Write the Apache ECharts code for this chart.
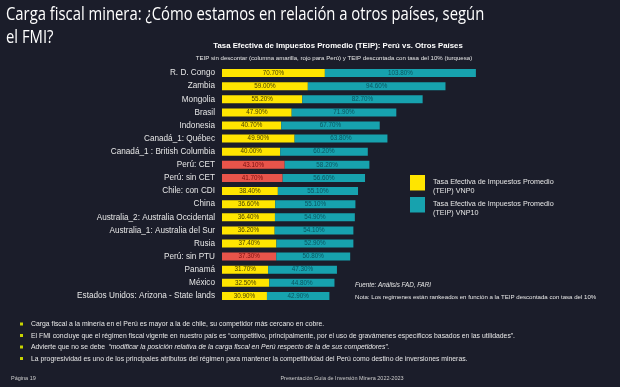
<!DOCTYPE html>
<html><head><meta charset="utf-8">
<script src="https://cdn.jsdelivr.net/npm/echarts@6/dist/echarts.min.js"></script>
<style>html,body{margin:0;padding:0;background:#1b1d2a;}#c{width:620px;height:387px;}</style>
</head><body><div id="c"></div>
<script>
const categories = ["R. D. Congo","Zambia","Mongolia","Brasil","Indonesia","Canadá_1: Québec","Canadá_1 : British Columbia","Perú: CET","Perú: sin CET","Chile: con CDI","China","Australia_2: Australia Occidental","Australia_1: Australia del Sur","Rusia","Perú: sin PTU","Panamá","México","Estados Unidos: Arizona - State lands"];
const vnp0 = [70.7,59.0,55.2,47.9,40.7,49.9,40.0,43.1,41.7,38.4,36.6,36.4,36.2,37.4,37.3,31.7,32.5,30.9];
const vnp10 = [103.8,94.6,82.7,71.9,67.7,63.8,60.2,58.2,56.6,55.1,55.1,54.9,54.1,52.9,50.8,47.3,44.8,42.9];
const legendNames = ["Tasa Efectiva de Impuestos Promedio\n(TEIP) VNP0","Tasa Efectiva de Impuestos Promedio\n(TEIP) VNP10"];
const bullets = [
 "Carga fiscal a la minería en el Perú es mayor a la de chile, su competidor más cercano en cobre.",
 "El FMI concluye que el régimen fiscal vigente en nuestro país es \u201ccompetitivo, principalmente, por el uso de gravámenes específicos basados en las utilidades\u201d.",
 "Advierte que no se debe \u201cmodificar la posición relativa de la carga fiscal en Perú respecto de la de sus competidores\u201d.",
 "La progresividad es uno de los principales atributos del régimen para mantener la competitividad del Perú como destino de inversiones mineras."
];

const YEL='#ffe500', TEAL='#17a2ae', RED='#e8544a';
const isPeru = c => c.startsWith('Perú');
const chart = echarts.init(document.getElementById('c'));
const font = 'Liberation Sans';

const bulletGraphics = [];
const by = [324,335.5,347,358.5];
const BS = 0.9;
bullets.forEach((t,i)=>{
  bulletGraphics.push({type:'rect',shape:{x:20,y:by[i]-1.5,width:3,height:3},style:{fill:'#c8d400'}});
  if(i===2){
    const a='Advierte que no se debe ';
    bulletGraphics.push({type:'group',x:31,y:by[i],scaleX:BS,children:[
      {type:'text',style:{x:0,y:0,text:a,fill:'#e8e8e8',font:'7.6px '+font,verticalAlign:'middle'}},
      {type:'text',style:{x:86,y:0,text:'\u201cmodificar la posición relativa de la carga fiscal en Perú respecto de la de sus competidores\u201d.',fill:'#e8e8e8',font:'italic 7.6px '+font,verticalAlign:'middle'}}
    ]});
  } else {
    bulletGraphics.push({type:'text',x:31,y:by[i],scaleX:BS,style:{x:0,y:0,text:t,fill:'#e8e8e8',font:'7.6px '+font,verticalAlign:'middle'}});
  }
});

const TS = 0.78;
chart.setOption({
  backgroundColor:'#1b1d2a',
  animation:false,
  grid:{left:222,right:107,top:66.5,bottom:84.5,containLabel:false},
  xAxis:{type:'value',min:0,max:200,show:false},
  yAxis:{type:'category',data:categories,inverse:true,
    axisLine:{show:false},axisTick:{show:false},
    axisLabel:{color:'#e6e6e6',fontFamily:font,fontSize:8.2,margin:7}},
  series:[
    {name:legendNames[0],type:'bar',stack:'t',barWidth:8,
     data:vnp0.map((v,i)=>({value:v,itemStyle:{color:isPeru(categories[i])?RED:YEL},
       label:{color:isPeru(categories[i])?'#7a1010':'#4a4200'}})),
     label:{show:true,position:'inside',fontFamily:font,fontSize:6.3,formatter:p=>p.value.toFixed(2)+'%'}},
    {name:legendNames[1],type:'bar',stack:'t',barWidth:8,
     data:vnp10,itemStyle:{color:TEAL},
     label:{show:true,position:'inside',color:'#0a5560',fontFamily:font,fontSize:6.3,formatter:p=>p.value.toFixed(2)+'%'}}
  ],
  graphic:[
    {type:'text',x:6,y:14.5,scaleX:TS,style:{x:0,y:0,text:'Carga fiscal minera: ¿Cómo estamos en relación a otros países, según',fill:'#ffffff',font:'19px "Open Sans"',verticalAlign:'middle'}},
    {type:'text',x:6,y:37.2,scaleX:TS,style:{x:0,y:0,text:'el FMI?',fill:'#ffffff',font:'19px "Open Sans"',verticalAlign:'middle'}},
    {type:'text',style:{x:338,y:46,text:'Tasa Efectiva de Impuestos Promedio (TEIP): Perú vs. Otros Países',fill:'#ffffff',font:'bold 7.8px '+font,align:'center',verticalAlign:'middle'}},
    {type:'text',style:{x:334,y:58,text:'TEIP sin descontar (columna amarilla, rojo para Perú) y TEIP descontada con tasa del 10% (turquesa)',fill:'#e6e6e6',font:'6.1px '+font,align:'center',verticalAlign:'middle'}},
    {type:'rect',shape:{x:410,y:175,width:15,height:15.5},style:{fill:YEL}},
    {type:'rect',shape:{x:410,y:197,width:15,height:15.5},style:{fill:TEAL}},
    {type:'text',style:{x:433,y:177,text:legendNames[0],fill:'#e6e6e6',font:'7.2px '+font,lineHeight:9.5}},
    {type:'text',style:{x:433,y:199,text:legendNames[1],fill:'#e6e6e6',font:'7.2px '+font,lineHeight:9.5}},
    {type:'text',style:{x:355,y:285,text:'Fuente: Análisis FAD, FARI',fill:'#e6e6e6',font:'italic 6.3px '+font,verticalAlign:'middle'}},
    {type:'text',style:{x:355,y:297,text:'Nota: Los regimenes están rankeados en función a la TEIP descontada con tasa del 10%',fill:'#e6e6e6',font:'6.1px '+font,verticalAlign:'middle'}},
    ...bulletGraphics,
    {type:'text',style:{x:11,y:378,text:'Página 19',fill:'#cccccc',font:'5.5px '+font,verticalAlign:'middle'}},
    {type:'text',style:{x:342,y:378,text:'Presentación Guía de Inversión Minera 2022-2023',fill:'#cccccc',font:'5.5px '+font,align:'center',verticalAlign:'middle'}}
  ]
});
</script></body></html>
